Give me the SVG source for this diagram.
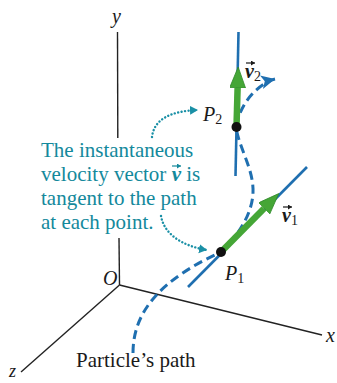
<svg xmlns="http://www.w3.org/2000/svg" width="337" height="383" viewBox="0 0 337 383">
<style>
.axis{stroke:#222;stroke-width:1.4;fill:none}
.lbl{font-family:"Liberation Serif","Times New Roman",serif;fill:#1a1a1a}
.it{font-style:italic}
.note{font-family:"Liberation Serif","Times New Roman",serif;font-size:21px;fill:#14899c}
.tan{stroke:#1f6fb0;stroke-width:2.6;fill:none}
.path{stroke:#1f6fb0;stroke-width:3;fill:none;stroke-dasharray:9 5}
.dots{stroke:#1a90a6;stroke-width:2.4;fill:none;stroke-linecap:round;stroke-dasharray:0.1 3.4}
.vec{stroke:#1a1a1a;stroke-width:1.2;fill:none}
.dot{fill:#111}
</style>
<defs>
<marker id="pathHead" markerUnits="userSpaceOnUse" markerWidth="16" markerHeight="14" refX="14" refY="7" orient="auto"><path d="M0,0 L14,7 L0,14 L3.5,7 Z" fill="#1f6fb0"/></marker>
<marker id="dotHead" markerUnits="userSpaceOnUse" markerWidth="10" markerHeight="10" refX="8" refY="4.5" orient="auto"><path d="M0,0 L8,4.5 L0,9 Z" fill="#1a90a6"/></marker>
<marker id="greenHead" markerUnits="userSpaceOnUse" markerWidth="24" markerHeight="18" refX="0" refY="8" orient="auto"><path d="M0,0 L21,8 L0,16 Z" fill="#45a636" stroke="#2f8a2a" stroke-width="0.8"/></marker>
<marker id="vecHead" markerUnits="userSpaceOnUse" markerWidth="6" markerHeight="6" refX="4" refY="2.5" orient="auto"><path d="M0,0 L4,2.5 L0,5 Z" fill="#1a1a1a"/></marker>
<marker id="vecHeadT" markerUnits="userSpaceOnUse" markerWidth="6" markerHeight="6" refX="4" refY="2.5" orient="auto"><path d="M0,0 L4,2.5 L0,5 Z" fill="#14899c"/></marker>
</defs>

<g id="axes">
<line class="axis" x1="117.5" y1="32" x2="117.8" y2="138"/>
<line class="axis" x1="119" y1="238" x2="119.5" y2="285"/>
<line class="axis" x1="119.5" y1="285" x2="322" y2="335"/>
<line class="axis" x1="119.5" y1="285" x2="21" y2="372"/>
<text class="lbl it" x="112" y="23" font-size="20">y</text>
<text class="lbl it" x="103" y="285" font-size="20">O</text>
<text class="lbl it" x="326" y="342" font-size="20">x</text>
<text class="lbl it" x="9" y="377" font-size="18">z</text>
</g>

<g id="connectors">
<path class="path" d="M133,353 C133,312 160,280 221,252 C237,237 252,215 253,193 C254,170 240,150 236,128 C240,100 262,82 275,79" marker-end="url(#pathHead)"/>
<line class="tan" x1="188" y1="287" x2="307" y2="167"/>
<line class="tan" x1="238.5" y1="32" x2="235.5" y2="176"/>
<line x1="221" y1="252" x2="264" y2="208.5" stroke="#45a636" stroke-width="6.5" marker-end="url(#greenHead)"/>
<line x1="236.5" y1="127" x2="237.6" y2="88" stroke="#45a636" stroke-width="6.5" marker-end="url(#greenHead)"/>
<path class="dots" d="M152,137 C154,119 171,111 198,110" marker-end="url(#dotHead)"/>
<path class="dots" d="M161,216 C164,234 182,246 207,250" marker-end="url(#dotHead)"/>
</g>

<g id="P1">
<circle class="dot" cx="221" cy="252" r="5"/>
<text class="lbl" x="225" y="280" font-size="20"><tspan class="it">P</tspan><tspan font-size="14" dy="3">1</tspan></text>
</g>

<g id="P2">
<circle class="dot" cx="236.5" cy="127" r="5"/>
<text class="lbl" x="203" y="121" font-size="20"><tspan class="it">P</tspan><tspan font-size="14" dy="3">2</tspan></text>
</g>

<g id="v1">
<text class="lbl" x="282" y="222" font-size="20"><tspan class="it" font-weight="bold">v</tspan><tspan font-size="14" dy="3">1</tspan></text>
<line class="vec" x1="283" y1="207" x2="292" y2="207" marker-end="url(#vecHead)"/>
</g>

<g id="v2">
<text class="lbl" x="245" y="78" font-size="20"><tspan class="it" font-weight="bold">v</tspan><tspan font-size="14" dy="3">2</tspan></text>
<line class="vec" x1="246" y1="63" x2="255" y2="63" marker-end="url(#vecHead)"/>
</g>

<g id="note">
<text class="note" x="41" y="157">The instantaneous</text>
<text class="note" x="41" y="181">velocity vector <tspan font-style="italic" font-weight="bold">v</tspan> is</text>
<line x1="172" y1="166" x2="181" y2="166" stroke="#14899c" stroke-width="1.2" marker-end="url(#vecHeadT)"/>
<text class="note" x="41" y="205">tangent to the path</text>
<text class="note" x="41" y="229">at each point.</text>
</g>

<g id="caption">
<text class="lbl" x="76" y="367" font-size="21">Particle’s path</text>
</g>
</svg>
